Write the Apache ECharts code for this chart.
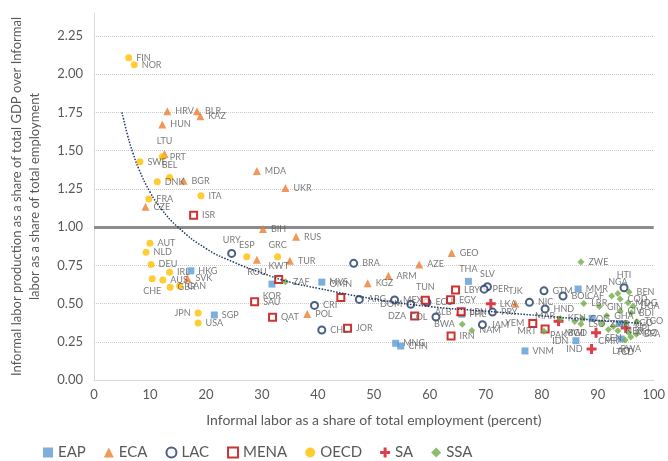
<!DOCTYPE html>
<html>
<head>
<meta charset="utf-8">
<script src="https://cdn.jsdelivr.net/npm/echarts@6/dist/echarts.min.js"></script>
<style>html,body{margin:0;padding:0;background:#fff}#c{width:668px;height:461px}</style>
</head>
<body>
<div id="c"></div>
<script>
// Region series: [country code, informal employment share (%), ratio]
const EAP = [['HKG',17.3,0.714],['KOR',31.8,0.627],['SGP',21.5,0.425],['MYS',40.7,0.640],['THA',66.9,0.645],['MNG',53.9,0.240],['CHN',54.8,0.222],['PHL',65.7,0.430],['MMR',86.5,0.595],['VNM',77.0,0.190],['IDN',86.1,0.257],['LAO',94.2,0.268],['',89.0,0.403],['',94.0,0.370]];
const ECA = [['HRV',13.1,1.758],['BLR',18.4,1.758],['KAZ',19.0,1.725],['HUN',12.2,1.671],['LTU',12.6,1.478],['BGR',16.0,1.303],['MDA',29.1,1.366],['UKR',34.2,1.255],['CZE',9.2,1.133],['BIH',30.2,0.987],['RUS',36.1,0.937],['ROU',29.1,0.786],['SVK',16.7,0.665],['TUR',35.0,0.780],['GEO',63.9,0.830],['AZE',58.1,0.756],['ARM',52.6,0.682],['KGZ',48.9,0.632],['POL',38.1,0.431],['ALB',65.3,0.445],['TJK',75.3,0.499]];
const LAC = [['URY',24.6,0.828],['BRA',46.4,0.763],['CRI',39.4,0.488],['ARG',47.4,0.527],['MEX',53.7,0.523],['DOM',56.6,0.495],['ECU',59.5,0.508],['COL',61.1,0.412],['CHL',40.7,0.327],['JAM',69.4,0.362],['SLV',70.3,0.610],['PER',69.7,0.594],['PRY',71.2,0.444],['NIC',77.8,0.508],['GTM',80.4,0.583],['BOL',83.8,0.549],['HND',80.6,0.465],['HTI',94.7,0.603]];
const MENA = [['ISR',17.8,1.078],['KWT',33.0,0.658],['SAU',28.7,0.512],['QAT',31.9,0.410],['OMN',44.1,0.540],['JOR',45.3,0.338],['TUN',59.2,0.521],['EGY',63.7,0.524],['LBY',64.6,0.588],['LBN',65.6,0.446],['DZA',57.3,0.418],['IRN',63.8,0.288],['YEM',78.4,0.370],['MAR',80.6,0.333]];
const OECD = [['FIN',6.2,2.107],['NOR',7.2,2.061],['SWE',8.2,1.427],['PRT',12.2,1.460],['BEL',13.5,1.325],['DNK',11.3,1.296],['ITA',19.1,1.205],['FRA',9.8,1.183],['AUT',10.0,0.895],['NLD',9.3,0.835],['ESP',27.3,0.806],['GRC',32.8,0.806],['DEU',10.2,0.756],['IRL',13.5,0.704],['AUS',12.3,0.654],['CHE',10.4,0.662],['CAN',15.3,0.614],['GBR',13.6,0.606],['JPN',18.6,0.438],['USA',18.6,0.373]];
const SA = [['LKA',70.9,0.499],['PAK',83.0,0.385],['BGD',89.7,0.309],['IND',88.9,0.203],['NPL',95.0,0.340]];
const SSA = [['ZAF',34.2,0.643],['ZWE',87.0,0.771],['BWA',65.8,0.365],['NAM',67.5,0.324],['MRT',80.4,0.318],['KEN',83.3,0.402],['MWI',85.9,0.383],['LBR',87.5,0.500],['COG',87.3,0.400],['LSO',87.0,0.366],['ZMB',90.8,0.368],['CAF',92.5,0.550],['NGA',93.6,0.565],['GIN',90.3,0.480],['GHA',91.6,0.420],['COD',94.0,0.530],['CIV',94.0,0.452],['BEN',95.6,0.575],['MDG',95.4,0.505],['UGA',96.3,0.482],['BDI',96.0,0.440],['AGO',95.0,0.372],['TGO',97.0,0.382],['SEN',92.8,0.350],['NER',93.6,0.322],['CMR',91.9,0.330],['MOZ',95.5,0.310],['BFA',96.9,0.300],['RWA',95.9,0.282],['TCD',94.9,0.262]];
// Trend curve points
const trendX = [5,6,7,8,10,12,15,20,25,30,35,40,50,60,70,80,90,98];
const trendY = [1.75,1.60,1.48,1.38,1.23,1.12,1.00,0.86,0.77,0.70,0.64,0.60,0.53,0.48,0.45,0.42,0.39,0.37];
// Axis ticks
const yTicks = [0.25,0.50,0.75,1.00,1.25,1.50,1.75,2.00,2.25];
const regions = ['EAP','ECA','LAC','MENA','OECD','SA','SSA'];

const labelPos = {BEL:'top',LTU:'top',ESP:'top',GRC:'top',URY:'top',KWT:'top',OMN:'top',TUN:'top',THA:'top',TJK:'top',SLV:'top',HTI:'top',NGA:'top',MAR:'top',
  CHE:'bottom',ROU:'bottom',KOR:'bottom',PAK:'bottom',LAO:'bottom',MWI:'bottom',SEN:'bottom',CMR:'bottom',RWA:'bottom',TCD:'bottom',
  JPN:'left',DOM:'left',COL:'left',DZA:'left',ALB:'left',YEM:'left',BWA:'left',MRT:'left',IDN:'left',BGD:'left',IND:'left',CAF:'left'};

function build(arr){
  return arr.map(p => {
    const d = {name:p[0], value:[p[1],p[2]]};
    if (labelPos[p[0]]) d.label = {position: labelPos[p[0]]};
    return d;
  });
}
const lbl = {show:true, formatter:'{b}', position:'right', distance:4, fontSize:9, color:'#595959', fontFamily:'Lato'};
function sc(name, arr, symbol, size, style){
  return {name, type:'scatter', data:build(arr), symbol, symbolSize:size, itemStyle:style, label:lbl, z:3};
}
const cross = 'path://M3.5,0H6.5V3.5H10V6.5H6.5V10H3.5V6.5H0V3.5H3.5Z';

const chart = echarts.init(document.getElementById('c'), null, {renderer:'canvas'});
chart.setOption({
  animation:false,
  backgroundColor:'#ffffff',
  textStyle:{fontFamily:'Lato'},
  grid:{left:93, right:12.5, top:13, bottom:81},
  legend:{data:regions, left:38, top:440, itemWidth:10, itemHeight:10, itemGap:18,
    textStyle:{fontSize:15, color:'#595959', width:60}},
  xAxis:{type:'value', min:0, max:100, interval:10,
    axisLine:{lineStyle:{color:'#d9d9d9'}}, axisTick:{show:false}, splitLine:{show:false},
    axisLabel:{color:'#595959', fontSize:13, margin:8},
    name:'Informal labor as a share of total employment (percent)', nameLocation:'middle', nameGap:33,
    nameTextStyle:{color:'#595959', fontSize:14}},
  yAxis:{type:'value', min:0, max:2.4, interval:0.25,
    axisLine:{show:true, lineStyle:{color:'#d9d9d9'}}, axisTick:{show:false}, splitLine:{show:false},
    axisLabel:{color:'#595959', fontSize:13, margin:11, showMaxLabel:false, formatter:v=>v.toFixed(2)},
    name:'Informal labor production as a share of total GDP over Informal\nlabor as a share of total employment',
    nameLocation:'middle', nameRotate:90, nameGap:50,
    nameTextStyle:{color:'#595959', fontSize:13, lineHeight:18, align:'center'}},
  series:[
    {name:'trend', type:'line', data:trendX.map((x,i)=>[x,trendY[i]]), smooth:true, showSymbol:false, silent:true,
      lineStyle:{color:'#1f3864', width:1.5, type:'dotted'}, z:4,
      markLine:{silent:true, symbol:'none', z:1, label:{show:false},
        data:yTicks.map(v => v === 1 ? {yAxis:v, lineStyle:{color:'#8c8c8c', width:3, type:'solid'}}
                                     : {yAxis:v, lineStyle:{color:'#c8c8c8', width:1, type:'dotted'}})}},
    sc('EAP', EAP, 'rect', 7, {color:'#5b9bd5'}),
    sc('ECA', ECA, 'triangle', 8, {color:'#ed7d31'}),
    sc('LAC', LAC, 'emptyCircle', 7, {color:'#1f3864', borderWidth:1.8}),
    sc('MENA', MENA, 'emptyRect', 7, {color:'#c00000', borderWidth:1.8}),
    sc('OECD', OECD, 'circle', 7, {color:'#ffc000'}),
    sc('SA', SA, cross, 10, {color:'#d0101c'}),
    sc('SSA', SSA, 'diamond', 7, {color:'#70ad47'})
  ]
});
</script>
</body>
</html>
